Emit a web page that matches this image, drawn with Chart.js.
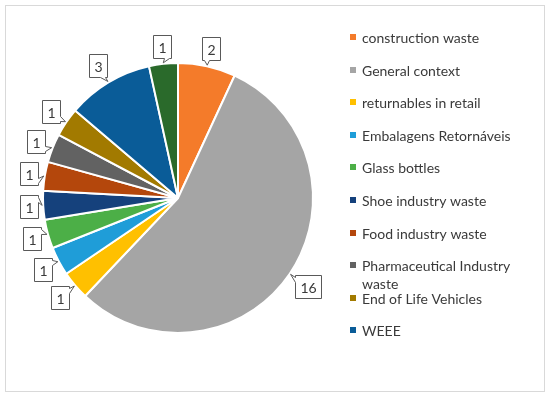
<!DOCTYPE html>
<html>
<head>
<meta charset="utf-8">
<script src="https://cdn.jsdelivr.net/npm/chart.js@4.4.1/dist/chart.umd.min.js"></script>
<style>
  html, body { margin: 0; padding: 0; background: #fff; }
  canvas { display: block; }
</style>
</head>
<body>
<canvas id="pie" width="550" height="399"></canvas>
<script>
// categories in drawing order (clockwise from 12 o'clock)
const labels = [
  'construction waste', 'General context', 'returnables in retail', 'Embalagens Retornáveis',
  'Glass bottles', 'Shoe industry waste', 'Food industry waste', 'Pharmaceutical Industry waste',
  'End of Life Vehicles', 'WEEE', 'Other'
];
const counts = [2, 16, 1, 1, 1, 1, 1, 1, 1, 3, 1];
const colors = [
  '#F47B2A', '#A5A5A5', '#FFC000', '#1F9DD8', '#4CAF47', '#15417C',
  '#B4470C', '#626262', '#A27A00', '#0A5C98', '#2A6A2B'
];
// the original legend only had room for the first ten entries
const legendRows = 10;

const FONT = 'Lato, "Open Sans", sans-serif';
const TXT = '#3a3a3a';

// white box with a little pointer toward its slice
const calloutPlugin = {
  id: 'callouts',
  afterDatasetsDraw(chart) {
    const ctx = chart.ctx;
    const arcs = chart.getDatasetMeta(0).data;
    ctx.save();
    ctx.font = '14px ' + FONT;
    arcs.forEach((arc, i) => {
      const txt = String(counts[i]);
      const mid = (arc.startAngle + arc.endAngle) / 2;
      const cx = Math.cos(mid), sy = Math.sin(mid);
      const w = Math.round(ctx.measureText(txt).width) + 10, h = 23;
      const d = arc.outerRadius + 5 + Math.abs(cx) * w / 2 + Math.abs(sy) * h / 2;
      const bx = Math.round(arc.x + cx * d - w / 2) + 0.5;
      const by = Math.round(arc.y + sy * d - h / 2) + 0.5;
      const tipX = arc.x + cx * (arc.outerRadius + 1);
      const tipY = arc.y + sy * (arc.outerRadius + 1);

      // corners clockwise: TL, TR, BR, BL
      const pts = [[bx, by], [bx + w, by], [bx + w, by + h], [bx, by + h]];
      // nearest corner to the tip
      let k = 0, best = 1e9;
      pts.forEach((p, j) => {
        const dd = (p[0] - tipX) ** 2 + (p[1] - tipY) ** 2;
        if (dd < best) { best = dd; k = j; }
      });
      // pick the side adjacent to that corner that faces the tip more
      const horiz = Math.abs(cx) * h > Math.abs(sy) * w;
      ctx.beginPath();
      for (let j = 0; j < 4; j++) {
        const p = pts[j];
        if (j === k) {
          const prev = pts[(j + 3) % 4], next = pts[(j + 1) % 4];
          const prevVertical = prev[0] === p[0];
          const usePrev = horiz ? prevVertical : !prevVertical;
          if (usePrev) {
            const ux = Math.sign(prev[0] - p[0]), uy = Math.sign(prev[1] - p[1]);
            ctx.lineTo(p[0] + ux * 7, p[1] + uy * 7);
            ctx.lineTo(tipX, tipY);
            ctx.lineTo(p[0] + ux * 2, p[1] + uy * 2);
            ctx.lineTo(p[0], p[1]);
          } else {
            const ux = Math.sign(next[0] - p[0]), uy = Math.sign(next[1] - p[1]);
            ctx.lineTo(p[0], p[1]);
            ctx.lineTo(p[0] + ux * 2, p[1] + uy * 2);
            ctx.lineTo(tipX, tipY);
            ctx.lineTo(p[0] + ux * 7, p[1] + uy * 7);
          }
        } else {
          j === 0 ? ctx.moveTo(p[0], p[1]) : ctx.lineTo(p[0], p[1]);
        }
      }
      ctx.closePath();
      ctx.fillStyle = '#fff';
      ctx.fill();
      ctx.strokeStyle = '#595959';
      ctx.lineWidth = 1;
      ctx.stroke();

      ctx.fillStyle = TXT;
      ctx.textAlign = 'center';
      ctx.textBaseline = 'middle';
      ctx.fillText(txt, bx + w / 2, by + h / 2 + 1);
    });
    ctx.restore();
  }
};

// legend on the right, plus the outer frame
const sideLegend = {
  id: 'sideLegend',
  beforeDraw(chart) {
    const ctx = chart.ctx;
    ctx.save();
    ctx.strokeStyle = '#D9D9D9';
    ctx.lineWidth = 1;
    ctx.strokeRect(5.5, 5.5, 539, 386);
    ctx.restore();
  },
  afterDraw(chart) {
    const ctx = chart.ctx;
    const x0 = 350, y0 = 37, step = 32.6, maxW = 165;
    ctx.save();
    ctx.font = '14px ' + FONT;
    ctx.textBaseline = 'middle';
    ctx.textAlign = 'left';
    labels.slice(0, legendRows).forEach((lab, i) => {
      const y = Math.round(y0 + i * step);
      ctx.fillStyle = colors[i];
      ctx.fillRect(x0, y - 3, 6, 6);
      // wrap long names
      const words = lab.split(' ');
      const lines = [];
      let cur = '';
      words.forEach(wd => {
        const t = cur ? cur + ' ' + wd : wd;
        if (cur && ctx.measureText(t).width > maxW) { lines.push(cur); cur = wd; }
        else cur = t;
      });
      lines.push(cur);
      ctx.fillStyle = TXT;
      lines.forEach((ln, j) => ctx.fillText(ln, x0 + 12, y + 1 + j * 18));
    });
    ctx.restore();
  }
};

new Chart(document.getElementById('pie'), {
  type: 'pie',
  data: {
    labels: labels,
    datasets: [{
      data: counts,
      backgroundColor: colors,
      borderColor: '#ffffff',
      borderWidth: 2
    }]
  },
  options: {
    responsive: false,
    devicePixelRatio: 1,
    animation: false,
    layout: { padding: { left: 42, right: 236, top: 62, bottom: 65 } },
    plugins: {
      legend: { display: false },
      tooltip: { enabled: false }
    }
  },
  plugins: [calloutPlugin, sideLegend]
});
</script>
</body>
</html>
